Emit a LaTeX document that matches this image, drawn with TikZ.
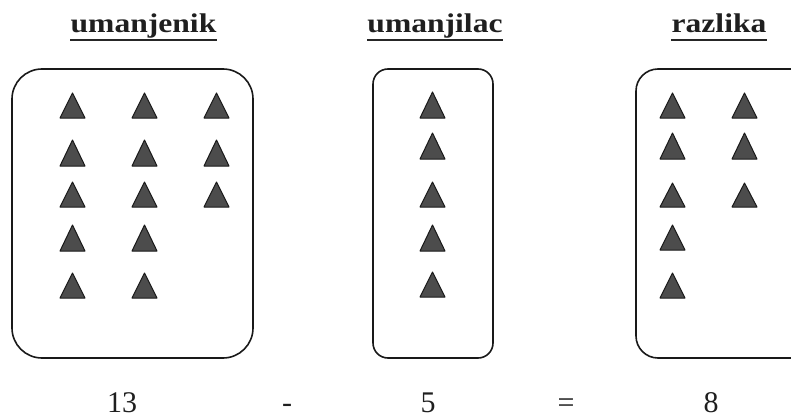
\documentclass[tikz,border=0pt]{standalone}
\usepackage{fontspec}
\setmainfont{Liberation Serif}
\usepackage{graphicx}
\tikzset{
  boxframe/.style={draw=black!90, line width=1.6pt, fill=none},
  tri/.style={draw=black!90, line width=1pt, fill=black!70, line join=round},
  title/.style={inner sep=0pt, anchor=base, font=\fontsize{27}{30}\selectfont\bfseries, text=black!88},
  numtext/.style={inner sep=0pt, anchor=base, font=\fontsize{30}{33}\selectfont, text=black!88},
  uline/.style={draw=black!85, line width=2.6pt}
}
\begin{document}
\begin{tikzpicture}[x=1pt,y=-1pt]
\useasboundingbox (0,0) rectangle (791,417);
\clip (0,0) rectangle (791,417);
% boxes
\draw[boxframe, rounded corners=30pt] (12,69) rectangle (253,358);
\draw[boxframe, rounded corners=15pt] (373,69) rectangle (493,358);
\draw[boxframe, rounded corners=22pt] (636,69) rectangle (822,358);
% titles
\node[title] (t1) at (143.5,33) {\scalebox{1.17}[1]{umanjenik}};
\node[title] (t2) at (435,33) {\scalebox{1.17}[1]{umanjilac}};
\node[title] (t3) at (719,33) {\scalebox{1.17}[1]{razlika}};
\foreach \t in {t1,t2,t3}{
  \draw[uline] ([yshift=-7pt]\t.base west) -- ([yshift=-7pt]\t.base east);
}
% triangles, box 1
\foreach \x/\ya/\yb in {72.5/93/118,144.5/93/118,216.5/93/118,
                        72.5/140/166,144.5/140/166,216.5/140/166,
                        72.5/182/207,144.5/182/207,216.5/182/207,
                        72.5/225/251,144.5/225/251,
                        72.5/273/298,144.5/273/298}{
  \draw[tri] (\x-12.5,\yb) -- (\x,\ya) -- (\x+12.5,\yb) -- cycle;
}
% box 2
\foreach \ya/\yb in {92/118,133/159,182/207,225/251,272/297}{
  \draw[tri] (432.5-12.5,\yb) -- (432.5,\ya) -- (432.5+12.5,\yb) -- cycle;
}
% box 3
\foreach \x/\ya/\yb in {672.5/93/118,744.5/93/118,
                        672.5/133/159,744.5/133/159,
                        672.5/183/207,744.5/183/207,
                        672.5/225/250,
                        672.5/273/298}{
  \draw[tri] (\x-12.5,\yb) -- (\x,\ya) -- (\x+12.5,\yb) -- cycle;
}
% numbers
\node[numtext] (n1) at (122,412) {13};
\node[numtext] (op1) at (287,412) {-};
\node[numtext] (n2) at (428,412) {5};
\node[numtext] (op2) at (566,412) {=};
\node[numtext] (n3) at (711,412) {8};
\end{tikzpicture}
\end{document}
